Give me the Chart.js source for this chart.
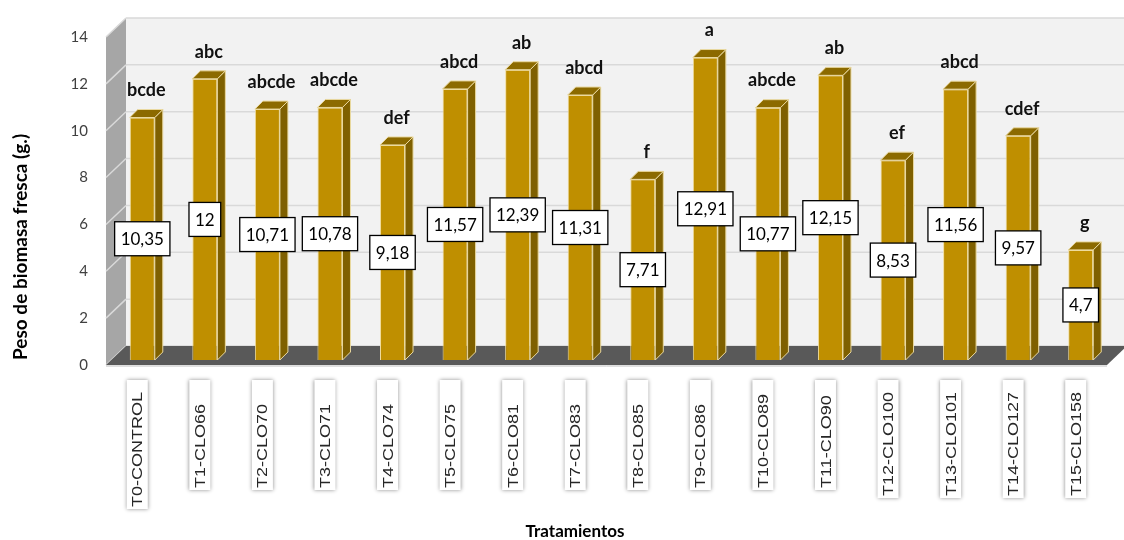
<!DOCTYPE html>
<html>
<head>
<meta charset="utf-8">
<script src="https://cdn.jsdelivr.net/npm/chart.js@4.4.0/dist/chart.umd.min.js"></script>
<style>
html, body { margin: 0; padding: 0; background: #fff; }
#wrap { width: 1124px; height: 540px; }
</style>
</head>
<body>
<div id="wrap"><canvas id="myBarChart"></canvas></div>
<script>
// datos
const tratamientos = ["T0-CONTROL", "T1-CLO66", "T2-CLO70", "T3-CLO71", "T4-CLO74", "T5-CLO75",
    "T6-CLO81", "T7-CLO83", "T8-CLO85", "T9-CLO86", "T10-CLO89", "T11-CLO90",
    "T12-CLO100", "T13-CLO101", "T14-CLO127", "T15-CLO158"];
const pesos = [10.35, 12, 10.71, 10.78, 9.18, 11.57, 12.39, 11.31, 7.71, 12.91, 10.77, 12.15, 8.53, 11.56, 9.57, 4.7];
const letras = ["bcde", "abc", "abcde", "abcde", "def", "abcd", "ab", "abcd", "f", "a", "abcde", "ab", "ef", "abcd", "cdef", "g"];
const yTicks = [0, 2, 4, 6, 8, 10, 12, 14];

// profundidad del efecto 3D (px)
const FRONT = [-5, 5];
const BACK = [15, -14];
const BAR_DEPTH = 8;

function poly(ctx, pts, fill, stroke) {
    ctx.beginPath();
    ctx.moveTo(pts[0][0], pts[0][1]);
    for (let i = 1; i < pts.length; i++)
        ctx.lineTo(pts[i][0], pts[i][1]);
    ctx.closePath();
    if (fill) { ctx.fillStyle = fill; ctx.fill(); }
    if (stroke) { ctx.strokeStyle = stroke; ctx.lineWidth = 1; ctx.stroke(); }
}

function formatear(v) {
    return String(v).replace(".", ",");
}

const escena3d = {
    id: "escena3d",
    beforeDatasetsDraw(chart) {
        const ctx = chart.ctx;
        const a = chart.chartArea;
        const y = chart.scales.y;
        const [fx, fy] = FRONT;
        const [bx, by] = BACK;
        ctx.save();
        // pared de fondo
        poly(ctx, [[a.left + bx, a.top + by], [a.right + bx + 20, a.top + by],
                   [a.right + bx + 20, a.bottom + by], [a.left + bx, a.bottom + by]], "#f2f2f2");
        // pared lateral
        poly(ctx, [[a.left + fx, a.top + fy], [a.left + bx, a.top + by],
                   [a.left + bx, a.bottom + by], [a.left + fx, a.bottom + fy]], "#a6a6a6");
        ctx.lineWidth = 1.5;
        ctx.strokeStyle = "#d9d9d9";
        yTicks.forEach(v => {
            const py = y.getPixelForValue(v);
            ctx.beginPath();
            ctx.moveTo(a.left + bx, py + by);
            ctx.lineTo(a.right + bx + 20, py + by);
            ctx.moveTo(a.left + fx, py + fy);
            ctx.lineTo(a.left + bx, py + by);
            ctx.stroke();
        });
        // piso
        poly(ctx, [[a.left + bx, a.bottom + by], [a.right + bx, a.bottom + by],
                   [a.right + fx, a.bottom + fy], [a.left + fx, a.bottom + fy]], "#595959");
        ctx.strokeStyle = "#bfbfbf";
        ctx.lineWidth = 1;
        ctx.beginPath();
        ctx.moveTo(a.left + fx, a.bottom + fy + 1);
        ctx.lineTo(a.right + fx, a.bottom + fy + 1);
        ctx.stroke();
        ctx.restore();
    },
    afterDatasetsDraw(chart) {
        const ctx = chart.ctx;
        const a = chart.chartArea;
        const xs = chart.scales.x;
        const meta = chart.getDatasetMeta(0);
        const d = BAR_DEPTH;
        ctx.save();
        meta.data.forEach((bar, i) => {
            const p = bar.getProps(["x", "y", "base", "width"], true);
            const l = p.x - p.width / 2, r = p.x + p.width / 2;
            poly(ctx, [[r, p.y], [r + d, p.y - d], [r + d, p.base - d], [r, p.base]], "#7f6000", "#ead9a0");
            poly(ctx, [[l, p.y], [l + d, p.y - d], [r + d, p.y - d], [r, p.y]], "#8c6a00", "#ead9a0");

            // letras de significancia
            ctx.font = "bold 18px Lato";
            ctx.fillStyle = "#111";
            ctx.textAlign = "center";
            ctx.textBaseline = "middle";
            ctx.fillText(letras[i], p.x + 4, p.y - 27);

            // caja con el valor
            const txt = formatear(pesos[i]);
            ctx.font = "17px Lato";
            const tw = ctx.measureText(txt).width;
            const bw = tw + 12, bh = 34;
            const cy = (p.y + p.base) / 2;
            ctx.fillStyle = "#fff";
            ctx.fillRect(p.x - bw / 2, cy - bh / 2, bw, bh);
            ctx.strokeStyle = "#000";
            ctx.lineWidth = 1.3;
            ctx.strokeRect(p.x - bw / 2, cy - bh / 2, bw, bh);
            ctx.fillStyle = "#000";
            ctx.fillText(txt, p.x, cy + 1);
        });

        // etiquetas de categorias
        ctx.font = "18px 'Liberation Sans'";
        tratamientos.forEach((lab, i) => {
            const cx = xs.getPixelForValue(i) + FRONT[0];
            const tw = ctx.measureText(lab).width;
            const h = Math.max(tw + 14, 110);
            const top = a.bottom + 20;
            ctx.save();
            ctx.shadowColor = "rgba(0,0,0,0.45)";
            ctx.shadowBlur = 4;
            ctx.fillStyle = "#fff";
            ctx.fillRect(cx - 10.5, top, 21, h);
            ctx.restore();
            ctx.save();
            ctx.translate(cx, top + h - 2);
            ctx.rotate(-Math.PI / 2);
            ctx.scale(1, 0.85);
            ctx.fillStyle = "#262626";
            ctx.textAlign = "left";
            ctx.textBaseline = "middle";
            ctx.fillText(lab, 0, 1);
            ctx.restore();
        });

        ctx.font = "bold 17px Lato";
        ctx.fillStyle = "#000";
        ctx.textAlign = "center";
        ctx.textBaseline = "middle";
        ctx.fillText("Tratamientos", 575, 532);
        ctx.restore();
    }
};

const ctx = document.getElementById("myBarChart").getContext("2d");
const chart = new Chart(ctx, {
    type: "bar",
    data: {
        labels: tratamientos,
        datasets: [{
            label: "Peso de biomasa fresca (g.)",
            data: pesos,
            backgroundColor: "#bf8f00",
            borderColor: "#f0dc9c",
            borderWidth: 1,
            barPercentage: 0.8,
            categoryPercentage: 0.5
        }]
    },
    options: {
        responsive: true,
        maintainAspectRatio: false,
        animation: false,
        layout: { padding: { top: 24, right: 12, bottom: 180, left: 0 } },
        plugins: {
            legend: { display: false },
            tooltip: { enabled: false }
        },
        scales: {
            x: { display: false },
            y: {
                min: 0,
                max: 14,
                afterFit(scale) { scale.width = 111; },
                grid: { display: false, drawTicks: false },
                border: { display: false },
                ticks: {
                    stepSize: 2,
                    padding: 23,
                    labelOffset: 5,
                    color: "#404040",
                    font: { family: "Lato", size: 15 }
                },
                title: {
                    display: true,
                    text: "Peso de biomasa fresca (g.)",
                    align: "start",
                    color: "#000",
                    font: { family: "Lato", size: 19, weight: "bold" },
                    padding: { top: 9, bottom: 0 }
                }
            }
        }
    },
    plugins: [escena3d]
});
</script>
</body>
</html>
